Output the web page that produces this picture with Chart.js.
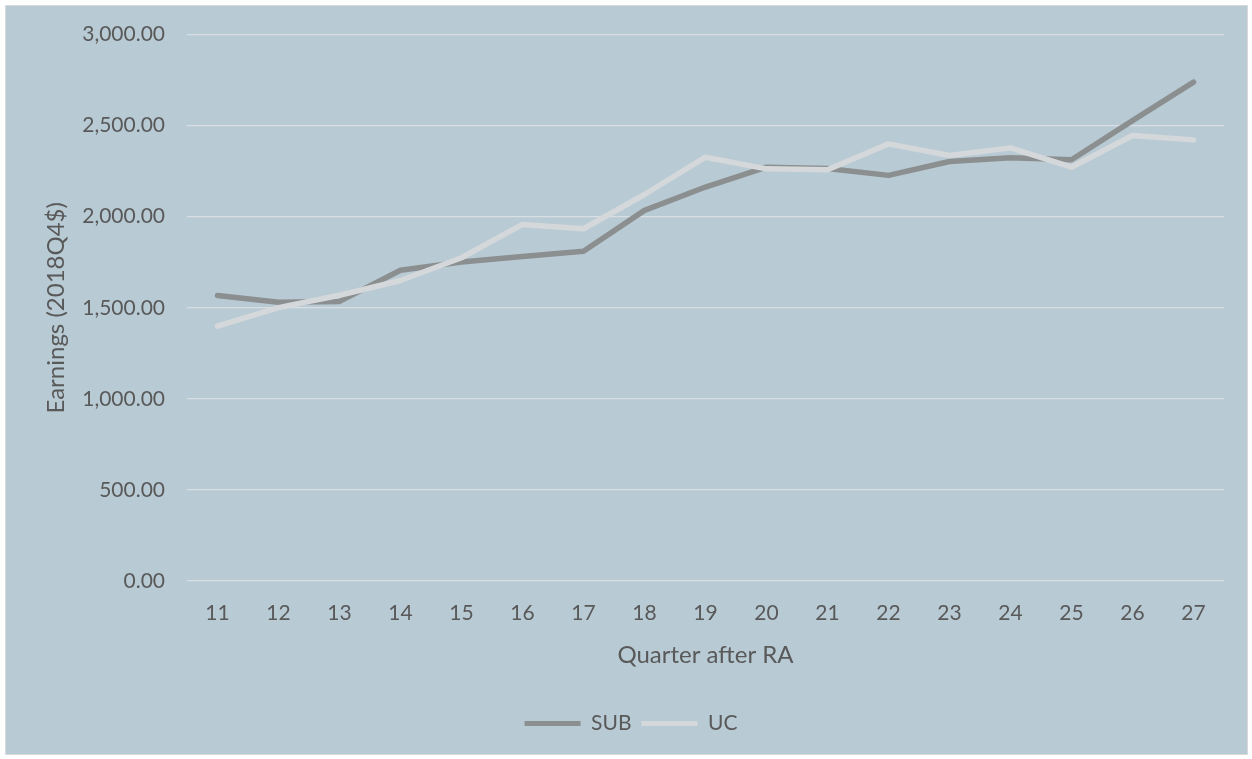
<!DOCTYPE html>
<html>
<head>
<meta charset="utf-8">
<script src="https://cdn.jsdelivr.net/npm/chart.js@4/dist/chart.umd.min.js"></script>
<style>
  html, body { margin: 0; padding: 0; background: #ffffff; }
  #wrap { position: relative; width: 1252px; height: 759px; overflow: hidden; }
  #frame { position: absolute; left: 5px; top: 5px; width: 1241px; height: 748px;
           background: #B8CAD4; border: 1.5px solid #D9D9D9; }
  #c { position: absolute; left: 0; top: 0; }
</style>
</head>
<body>
<div id="wrap">
  <div id="frame"></div>
  <canvas id="c" width="1252" height="759"></canvas>
</div>
<script>
const quarters = ['11','12','13','14','15','16','17','18','19','20','21','22','23','24','25','26','27'];
const subValues = [1568, 1530, 1535, 1706, 1751, 1782, 1810, 2035, 2163, 2272, 2265, 2227, 2303, 2324, 2313, 2528, 2739];
const ucValues  = [1399, 1501, 1569, 1650, 1775, 1958, 1934, 2122, 2327, 2263, 2258, 2400, 2336, 2378, 2272, 2446, 2422];
const yTicks = [0, 500, 1000, 1500, 2000, 2500, 3000];
const seriesNames = ['SUB', 'UC'];
const yTitle = 'Earnings (2018Q4$)';
const xTitle = 'Quarter after RA';

const textColor = '#595959';
const fontFamily = 'Lato, "Open Sans", sans-serif';
const subColor = '#8C8F8F';
const ucColor = '#D5D8DA';

new Chart(document.getElementById('c'), {
  type: 'line',
  data: {
    labels: quarters,
    datasets: [
      { label: seriesNames[0], data: subValues, borderColor: subColor, backgroundColor: subColor,
        borderWidth: 5.5, pointRadius: 0, tension: 0, borderCapStyle: 'round', borderJoinStyle: 'round', order: 2 },
      { label: seriesNames[1], data: ucValues, borderColor: ucColor, backgroundColor: ucColor,
        borderWidth: 5.5, pointRadius: 0, tension: 0, borderCapStyle: 'round', borderJoinStyle: 'round', order: 1 }
    ]
  },
  options: {
    responsive: false,
    animation: false,
    devicePixelRatio: 1,
    layout: { padding: { left: 38, right: 28, top: 34, bottom: 15 } },
    plugins: {
      tooltip: { enabled: false },
      legend: {
        position: 'bottom',
        labels: {
          color: textColor,
          font: { family: fontFamily, size: 21 },
          boxWidth: 56,
          boxHeight: 5,
          padding: 10,
          sort: (a, b) => a.datasetIndex - b.datasetIndex,
          generateLabels: (chart) => Chart.defaults.plugins.legend.labels.generateLabels(chart)
            .map(l => Object.assign(l, { lineWidth: 0 }))
        }
      }
    },
    scales: {
      x: {
        offset: true,
        grid: { display: false, drawTicks: false },
        border: { display: false },
        ticks: { color: textColor, font: { family: fontFamily, size: 21 }, padding: 20, maxRotation: 0 },
        title: { display: true, text: xTitle, color: textColor,
                 font: { family: fontFamily, size: 24 }, padding: { top: 4, bottom: 33 } },
        afterFit: (s) => { s.height = 122; }
      },
      y: {
        min: 0, max: 3000,
        afterBuildTicks: (s) => { s.ticks = yTicks.map(v => ({ value: v })); },
        grid: { color: '#D9DEE2', lineWidth: 1.3, drawTicks: false },
        border: { display: false },
        ticks: {
          color: textColor, font: { family: fontFamily, size: 21 }, padding: 22,
          callback: (v) => Number(v).toLocaleString('en-US', { minimumFractionDigits: 2, maximumFractionDigits: 2 })
        },
        title: { display: true, text: yTitle, color: textColor,
                 font: { family: fontFamily, size: 24 }, padding: { top: 4, bottom: 4 } },
        afterFit: (s) => { s.width = 149; }
      }
    }
  }
});
</script>
</body>
</html>
